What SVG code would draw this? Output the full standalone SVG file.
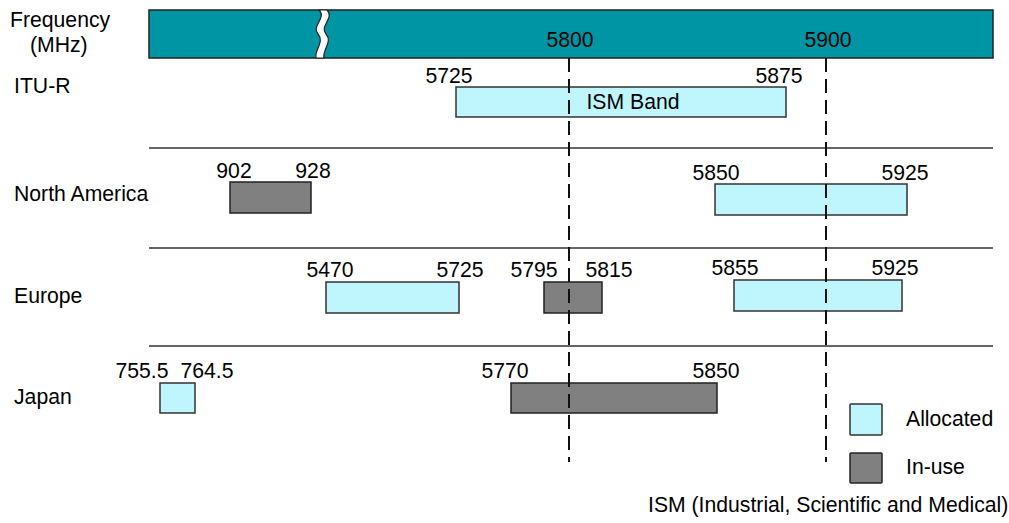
<svg xmlns="http://www.w3.org/2000/svg" width="1009" height="523" viewBox="0 0 1009 523">
<style>
text{font-family:"Liberation Sans",Arial,sans-serif;font-size:21.2px;fill:#000}
.m{text-anchor:middle}
.alloc{fill:#bff5fd;stroke:#333;stroke-width:1.5}
.use{fill:#808080;stroke:#222;stroke-width:1.5}
.sep{stroke:#333;stroke-width:1.5}
.dash{stroke:#111;stroke-width:2;stroke-dasharray:14,7;fill:none}
</style>
<rect width="1009" height="523" fill="#fff"/>
<g id="labels">
<text x="10" y="27">Frequency</text>
<text x="30" y="52">(MHz)</text>
<text x="14" y="93">ITU-R</text>
<text x="14" y="201">North America</text>
<text x="14" y="303">Europe</text>
<text x="14" y="404">Japan</text>
</g>
<g id="freqbar">
<rect x="149" y="10" width="844" height="48" fill="#0095a5" stroke="#222" stroke-width="1.5"/>
<path d="M319,10 C327,18 311,26 318,34 C325,42 314,50 316,58 L324,58 C322,50 333,42 326,34 C319,26 335,18 327,10 Z" fill="#fff" stroke="#222" stroke-width="1.2"/>
<text class="m" x="570" y="47">5800</text>
<text class="m" x="828" y="47">5900</text>
</g>
<g id="separators">
<line class="sep" x1="149" y1="148" x2="993" y2="148"/>
<line class="sep" x1="149" y1="248" x2="993" y2="248"/>
<line class="sep" x1="149" y1="346" x2="993" y2="346"/>
</g>
<g id="itu">
<rect class="alloc" x="456" y="87" width="330" height="30"/>
<text class="m" x="633" y="109">ISM Band</text>
<text class="m" x="449" y="83">5725</text>
<text class="m" x="779" y="83">5875</text>
</g>
<g id="na">
<rect class="use" x="230" y="182" width="81" height="31"/>
<text class="m" x="234" y="178">902</text>
<text class="m" x="313" y="178">928</text>
<rect class="alloc" x="715" y="184" width="192" height="31"/>
<text class="m" x="716" y="180">5850</text>
<text class="m" x="905" y="180">5925</text>
</g>
<g id="eu">
<rect class="alloc" x="326" y="282" width="133" height="31"/>
<text class="m" x="330" y="277">5470</text>
<text class="m" x="460" y="277">5725</text>
<rect class="use" x="544" y="282" width="58" height="31"/>
<text class="m" x="534" y="277">5795</text>
<text class="m" x="609" y="277">5815</text>
<rect class="alloc" x="734" y="280" width="168" height="31"/>
<text class="m" x="735" y="275">5855</text>
<text class="m" x="895" y="275">5925</text>
</g>
<g id="jp">
<rect class="alloc" x="160" y="383" width="35" height="30"/>
<text class="m" x="142" y="378">755.5</text>
<text class="m" x="207" y="378">764.5</text>
<rect class="use" x="511" y="383" width="206" height="30"/>
<text class="m" x="505" y="378">5770</text>
<text class="m" x="716" y="378">5850</text>
</g>
<g id="connectors">
<line class="dash" x1="569" y1="58" x2="569" y2="462"/>
<line class="dash" x1="826" y1="58" x2="826" y2="462"/>
</g>
<g id="legend">
<rect class="alloc" x="850" y="404" width="32" height="31" rx="1"/>
<text x="906" y="426">Allocated</text>
<rect class="use" x="850" y="453" width="32" height="30" rx="1"/>
<text x="906" y="474">In-use</text>
<text x="648" y="512">ISM (Industrial, Scientific and Medical)</text>
</g>
</svg>
